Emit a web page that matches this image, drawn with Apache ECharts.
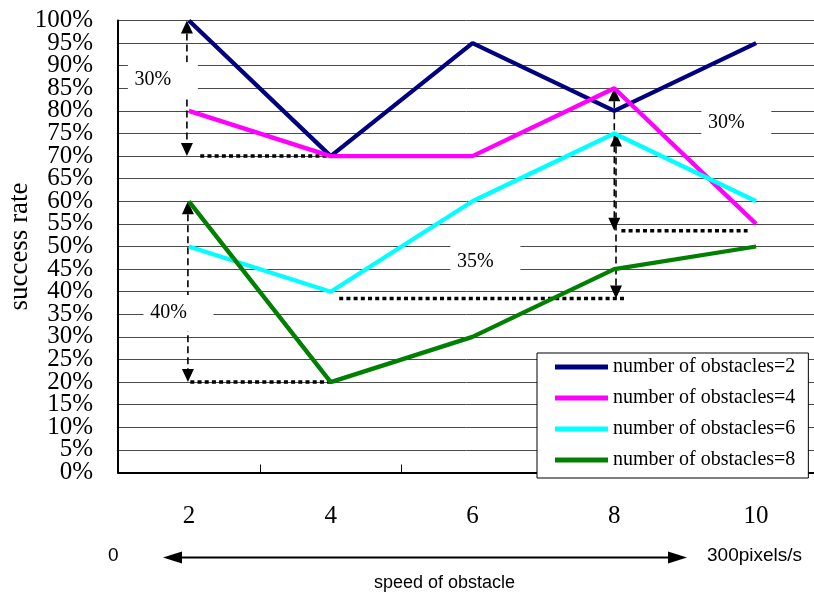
<!DOCTYPE html>
<html>
<head>
<meta charset="utf-8">
<script src="https://cdn.jsdelivr.net/npm/echarts@6/dist/echarts.min.js"></script>
<style>
  html, body { margin: 0; padding: 0; background: #fff; }
  #chart { width: 814px; height: 595px; }
</style>
</head>
<body>
<div id="chart"></div>
<script>
// Obstacle speed categories (x axis) and success rate per obstacle count (%)
const categories = ['2', '4', '6', '8', '10'];
const obstacles2 = [100, 70, 95, 80, 95];
const obstacles4 = [80, 70, 70, 85, 55];
const obstacles6 = [50, 40, 60, 75, 60];
const obstacles8 = [60, 20, 30, 45, 50];
const seriesNames = [
  'number of obstacles=2',
  'number of obstacles=4',
  'number of obstacles=6',
  'number of obstacles=8'
];

// Success-rate axis range and step (%)
const rateMin = 0;
const rateMax = 100;
const rateStep = 5;

// Span arrows: [category position, from %, to %]
const spanArrows = [
  [-0.014, 100, 70],
  [-0.007, 60, 20],
  [3.0, 85, 53.5],
  [3.012, 75, 38.5]
];
// Dotted reference levels: [from category position, to category position, %]
const levelLines = [
  [0.08, 1, 70],
  [0.01, 1, 20],
  [3.05, 3.94, 53.5],
  [1.06, 3.08, 38.5]
];
// Span labels: [category position, %, text]
const spanLabels = [
  [-0.254, 86.8, '30%'],
  [-0.144, 35.3, '40%'],
  [3.79, 77.3, '30%'],
  [2.02, 46.6, '35%']
];

const serif = '"Liberation Serif", "Times New Roman", serif';
const sans = '"Liberation Sans", Arial, sans-serif';
const colors = ['#000080', '#ff00ff', '#00ffff', '#008000'];

const chart = echarts.init(document.getElementById('chart'), null, { renderer: 'canvas' });

// helpers mapping category position / value to pixels inside renderItem
function px(api, pos) {
  const base = api.coord([0, 0])[0];
  const bw = api.size([1, 0])[0];
  return base + pos * bw;
}
function py(api, v) {
  return api.coord([0, v])[1];
}

function renderArrow(params, api) {
  const d = spanArrows[params.dataIndex];
  const x = px(api, d[0]);
  const yA = py(api, d[1]);
  const yB = py(api, d[2]);
  const dir = yB > yA ? 1 : -1;
  const head = 13, half = 6;
  return {
    type: 'group',
    children: [
      {
        type: 'line',
        shape: { x1: x, y1: yA + dir * head, x2: x, y2: yB - dir * head },
        style: { stroke: '#000', lineWidth: 1.6, lineDash: [7, 4] }
      },
      {
        type: 'polygon',
        shape: { points: [[x, yA], [x - half, yA + dir * head], [x + half, yA + dir * head]] },
        style: { fill: '#000' }
      },
      {
        type: 'polygon',
        shape: { points: [[x, yB], [x - half, yB - dir * head], [x + half, yB - dir * head]] },
        style: { fill: '#000' }
      }
    ]
  };
}

function renderLevel(params, api) {
  const d = levelLines[params.dataIndex];
  const y = py(api, d[2]);
  return {
    type: 'line',
    shape: { x1: px(api, d[0]), y1: y, x2: px(api, d[1]), y2: y },
    style: { stroke: '#000', lineWidth: 3.5, lineDash: [4, 3.2] }
  };
}

function renderLabel(params, api) {
  const d = spanLabels[params.dataIndex];
  const cx = px(api, d[0]);
  const cy = py(api, d[1]);
  const halfText = 19;
  return {
    type: 'group',
    children: [
      {
        type: 'rect',
        z2: 10,
        shape: { x: cx - halfText - 6, y: cy - 18, width: 2 * halfText + 32, height: 36 },
        style: { fill: '#fff' }
      },
      {
        type: 'text',
        z2: 11,
        style: {
          x: cx, y: cy, text: d[2],
          fontFamily: serif, fontSize: 20, fill: '#000',
          align: 'center', verticalAlign: 'middle'
        }
      }
    ]
  };
}

const lineSeries = [obstacles2, obstacles4, obstacles6, obstacles8].map((vals, i) => ({
  name: seriesNames[i],
  type: 'line',
  data: vals,
  z: 3,
  showSymbol: false,
  symbol: 'none',
  lineStyle: { color: colors[i], width: 4.3 },
  itemStyle: { color: colors[i] },
  silent: true
}));

const rateLabelStyle = {
  fontFamily: serif, fontSize: 25, color: '#000', margin: 25, hideOverlap: false
};

const option = {
  animation: false,
  backgroundColor: '#fff',
  grid: {
    left: 118, right: -13, top: 20.5, bottom: 122.5,
    containLabel: false,
    outerBoundsMode: 'none'
  },
  xAxis: {
    type: 'category',
    data: categories,
    boundaryGap: true,
    axisLine: { show: true, lineStyle: { color: '#000', width: 2 } },
    axisTick: { show: true, inside: true, length: 8, lineStyle: { color: '#000', width: 1 } },
    axisLabel: { fontFamily: serif, fontSize: 25, color: '#000', margin: 31, lineHeight: 25, hideOverlap: false },
    splitLine: { show: false }
  },
  yAxis: [
    {
      // inner ticks 5% .. 95%, grid lines, axis line and name
      type: 'value',
      min: rateMin,
      max: rateMax,
      interval: rateStep,
      name: 'success rate',
      nameLocation: 'middle',
      nameRotate: 90,
      nameGap: 85,
      nameMoveOverlap: false,
      nameTextStyle: { fontFamily: serif, fontSize: 27, color: '#000' },
      axisLine: { show: true, lineStyle: { color: '#000', width: 2 } },
      axisTick: { show: false },
      axisLabel: Object.assign({
        formatter: '{value}%', showMinLabel: false, showMaxLabel: false
      }, rateLabelStyle),
      splitLine: { show: true, lineStyle: { color: '#4a4a4a', width: 1 } }
    },
    {
      // end labels 0% and 100%
      type: 'value',
      position: 'left',
      min: rateMin,
      max: rateMax,
      interval: rateMax - rateMin,
      axisLine: { show: false },
      axisTick: { show: false },
      splitLine: { show: false },
      axisLabel: Object.assign({
        formatter: '{value}%', showMinLabel: true, showMaxLabel: true
      }, rateLabelStyle)
    }
  ],
  legend: {
    orient: 'vertical',
    left: 537,
    top: 353,
    backgroundColor: '#fff',
    borderColor: '#000',
    borderWidth: 1,
    borderRadius: 0,
    padding: [4, 13, 8, 18],
    itemGap: 11,
    itemWidth: 53,
    itemHeight: 5,
    icon: 'rect',
    selectedMode: false,
    data: seriesNames,
    textStyle: { fontFamily: serif, fontSize: 20, color: '#000' }
  },
  graphic: [
    {
      type: 'text', left: 108, top: 546,
      style: { text: '0', fontFamily: sans, fontSize: 19, fill: '#000' }
    },
    {
      type: 'line',
      shape: { x1: 178, y1: 557.5, x2: 672, y2: 557.5 },
      style: { stroke: '#000', lineWidth: 2 }
    },
    {
      type: 'polygon',
      shape: { points: [[163, 557.5], [182, 551.5], [182, 563.5]] },
      style: { fill: '#000' }
    },
    {
      type: 'polygon',
      shape: { points: [[687, 557.5], [668, 551.5], [668, 563.5]] },
      style: { fill: '#000' }
    },
    {
      type: 'text', left: 707, top: 546,
      style: { text: '300pixels/s', fontFamily: sans, fontSize: 19, fill: '#000' }
    },
    {
      type: 'text', left: 374, top: 574,
      style: { text: 'speed of obstacle', fontFamily: sans, fontSize: 18, fill: '#000' }
    }
  ],
  series: [
    {
      type: 'custom',
      name: 'levels',
      z: 1,
      silent: true,
      renderItem: renderLevel,
      data: levelLines.map(() => [0, 0])
    },
    {
      type: 'custom',
      name: 'arrows',
      z: 1,
      silent: true,
      renderItem: renderArrow,
      data: spanArrows.map(() => [0, 0])
    },
    {
      type: 'custom',
      name: 'labels',
      z: 2,
      silent: true,
      renderItem: renderLabel,
      data: spanLabels.map(() => [0, 0])
    }
  ].concat(lineSeries)
};

chart.setOption(option);
</script>
</body>
</html>
